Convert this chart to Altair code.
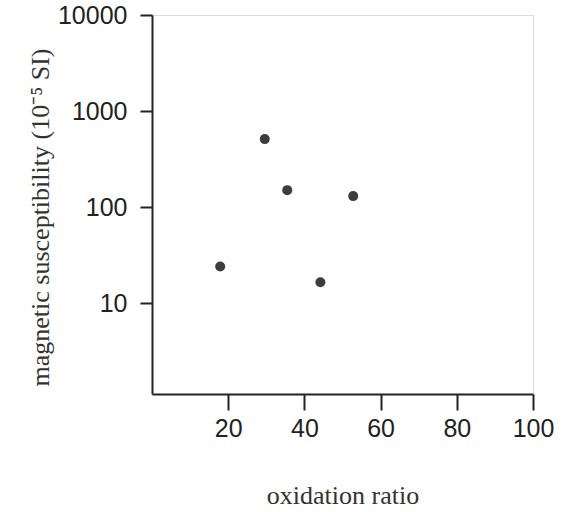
import altair as alt
import pandas as pd

oxidation_ratio = [17.9, 29.6, 35.5, 44.2, 52.8]
susceptibility = [24, 510, 150, 16.5, 130]

x_ticks = [20, 40, 60, 80, 100]
y_ticks = [10, 100, 1000, 10000]

df = pd.DataFrame({"ox": oxidation_ratio, "ms": susceptibility})

chart = alt.Chart(df).mark_circle(size=100, color="#3d3d3d", opacity=1).encode(
    x=alt.X("ox:Q",
            scale=alt.Scale(domain=[0, 100], nice=False, zero=False),
            axis=alt.Axis(values=x_ticks, title="oxidation ratio", grid=False,
                          domainColor="#222", domainWidth=2, tickColor="#222", tickWidth=2,
                          tickSize=16, labelPadding=6, labelFont="Liberation Sans",
                          labelFontSize=25, labelColor="#222", labelFlush=False,
                          titleFont="Liberation Serif", titleFontSize=26, titleFontWeight="normal",
                          titleColor="#333", titleY=109, titleBaseline="alphabetic")),
    y=alt.Y("ms:Q",
            scale=alt.Scale(type="log", domain=[1.13, 10000], nice=False),
            axis=alt.Axis(values=y_ticks, format="d", title="magnetic susceptibility (10⁻⁵ SI)",
                          grid=False, domainColor="#222", domainWidth=2, tickColor="#222",
                          tickWidth=2, tickSize=12, labelPadding=13, labelFlush=False,
                          labelFont="Liberation Sans", labelFontSize=25, labelColor="#222",
                          titleFont="Liberation Serif", titleFontSize=26, titleFontWeight="normal",
                          titleColor="#333", titleX=-112, titleY=202, titleAngle=-90,
                          titleBaseline="middle", titleAlign="center")),
).properties(
    width=381, height=379,
    autosize=alt.AutoSizeParams(type="none"),
    padding={"left": 152, "top": 15, "right": 33, "bottom": 118},
).configure_view(stroke=None).configure(background="white")

chart.save("out.html", embed_options={"renderer": "svg", "actions": False})
